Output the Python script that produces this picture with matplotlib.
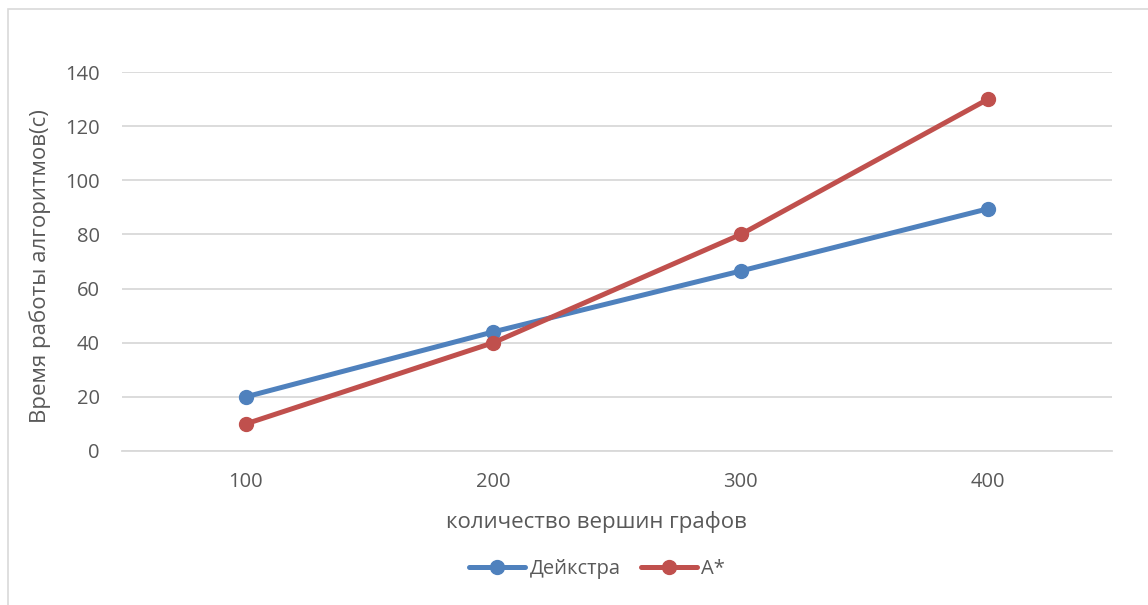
import numpy as np
import matplotlib.pyplot as plt
from matplotlib.patches import Rectangle

plt.rcParams['font.family'] = ['Open Sans', 'DejaVu Sans']

categories = ['100', '200', '300', '400']
dijkstra = [20, 44, 66.5, 89.5]
astar = [10, 40, 80, 130]
series_names = ['Дейкстра', 'A*']

txt = '#595959'
grid = '#D9D9D9'

fig = plt.figure(figsize=(11.48, 6.05), dpi=100)
# chart border (Excel style)
fig.patches.append(Rectangle((8 / 1148, -0.1), 1.5, 1 - 9 / 605 + 0.1,
                             transform=fig.transFigure, fill=False,
                             edgecolor=grid, linewidth=1.2))

ax = fig.add_axes([122 / 1148, (605 - 451) / 605, 990 / 1148, 379 / 605])
x = np.arange(len(categories))
ax.plot(x, dijkstra, color='#4F81BD', lw=3.6, marker='o', ms=10,
        label=series_names[0], solid_capstyle='round', zorder=3)
ax.plot(x, astar, color='#C0504D', lw=3.6, marker='o', ms=10,
        label=series_names[1], solid_capstyle='round', zorder=3)

ax.set_xlim(-0.5, len(categories) - 0.5)
ax.set_ylim(0, 140)
ax.set_yticks(np.arange(0, 141, 20))
ax.set_xticks(x)
ax.set_xticklabels(categories)
ax.grid(axis='y', color=grid, lw=1.3)
ax.set_axisbelow(True)
for s in ['top', 'right', 'left']:
    ax.spines[s].set_visible(False)
ax.spines['bottom'].set_color(grid)
ax.spines['bottom'].set_linewidth(1.3)
ax.tick_params(axis='both', length=0, labelsize=14.5, labelcolor=txt)
ax.tick_params(axis='y', pad=16)
ax.tick_params(axis='x', pad=15)

fig.text(596 / 1148, 1 - 522 / 605, 'количество вершин графов',
         fontsize=16, color=txt, ha='center', va='center')
fig.text(40 / 1148, 1 - 266 / 605, 'Время работы алгоритмов(с)', rotation=90,
         fontsize=16, color=txt, ha='center', va='center')

fig.legend(loc='center', bbox_to_anchor=(597 / 1148, 1 - 569 / 605), ncol=2,
           frameon=False, fontsize=14.5, handlelength=2.8, handletextpad=0.2,
           columnspacing=1.0, labelcolor=txt)

fig.savefig('out.png', dpi=100)
